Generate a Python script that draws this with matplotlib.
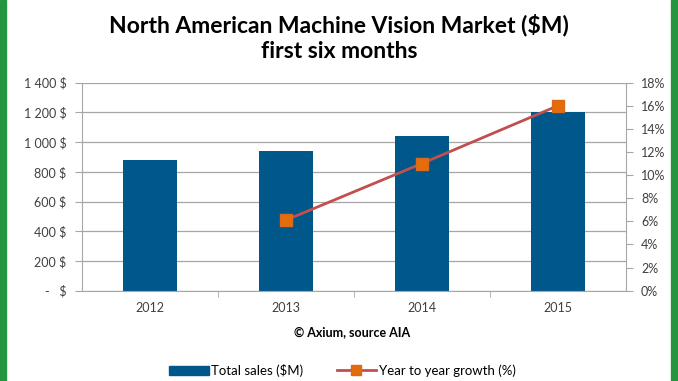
import numpy as np
import matplotlib.pyplot as plt
from matplotlib.patches import Rectangle
from matplotlib.lines import Line2D
from matplotlib.ticker import FixedLocator

years = ["2012", "2013", "2014", "2015"]
sales = [880, 940, 1040, 1200]
growth = [np.nan, 6.1, 11.0, 16.0]
left_ticks = [0, 200, 400, 600, 800, 1000, 1200, 1400]
left_labels = ["-   $", "200 $", "400 $", "600 $", "800 $", "1 000 $", "1 200 $", "1 400 $"]
right_ticks = [0, 2, 4, 6, 8, 10, 12, 14, 16, 18]

plt.rcParams['font.family'] = ['Lato', 'DejaVu Sans']
bar_color = "#00588A"
line_color = "#C0504D"
marker_color = "#E46C0A"
grid_color = "#A6A6A6"
txt_color = "#404040"

fig = plt.figure(figsize=(6.78, 3.81), dpi=100)
fig.patches.append(Rectangle((0, 0), 6 / 678, 1, transform=fig.transFigure, color="#25953F"))
fig.patches.append(Rectangle((671 / 678, 0), 7 / 678, 1, transform=fig.transFigure, color="#25953F"))

ax = fig.add_axes([0.1205, 0.237, 0.8024, 0.546])
x = np.arange(len(years))
ax.bar(x, sales, width=0.4, color=bar_color, zorder=2)
ax.set_xlim(-0.5, 3.5)
ax.set_ylim(0, 1400)
ax.set_yticks(left_ticks)
ax.set_yticklabels(left_labels, fontsize=9, color=txt_color)
ax.set_xticks(x)
ax.set_xticklabels(years, fontsize=9, color=txt_color)
ax.tick_params(axis='x', length=0, pad=8)
ax.xaxis.set_minor_locator(FixedLocator([0.5, 1.5, 2.5]))
ax.tick_params(axis='x', which='minor', length=4, color=grid_color)
ax.tick_params(axis='y', length=5, color=grid_color, pad=6)
ax.grid(axis='y', color=grid_color, linewidth=0.9, zorder=0)
for s in ["top", "right"]:
    ax.spines[s].set_visible(False)
ax.spines["left"].set_color(grid_color)
ax.spines["bottom"].set_color(grid_color)

ax2 = ax.twinx()
ax2.plot(x, growth, color=line_color, linewidth=2, marker="s", markersize=8,
         markerfacecolor=marker_color, markeredgecolor="#D86A1E", zorder=3)
ax2.set_ylim(0, 18)
ax2.set_yticks(right_ticks)
ax2.set_yticklabels([f"{t}%" for t in right_ticks], fontsize=9, color=txt_color)
ax2.tick_params(axis='y', length=5, color=grid_color, pad=6)
for s in ["top", "left", "bottom"]:
    ax2.spines[s].set_visible(False)
ax2.spines["right"].set_color(grid_color)

fig.text(0.5, 0.965, "North American Machine Vision Market ($M)\nfirst six months",
         ha="center", va="top", fontsize=16.5, fontweight="bold", linespacing=1.3)
fig.text(0.52, 0.128, "\u00a9 Axium, source AIA", ha="center", va="center",
         fontsize=9, fontweight="bold")

handles = [Rectangle((0, 0), 1, 1, color=bar_color),
           Line2D([], [], color=line_color, linewidth=2, marker="s", markersize=7,
                  markerfacecolor=marker_color, markeredgecolor="#D86A1E")]
fig.legend(handles, ["Total sales ($M)", "Year to year growth (%)"], loc="center",
           bbox_to_anchor=(0.505, 0.028), ncol=2, frameon=False, fontsize=9.5,
           handlelength=3.0, handletextpad=0.2, columnspacing=2.5)

fig.savefig("out.png", dpi=100)
